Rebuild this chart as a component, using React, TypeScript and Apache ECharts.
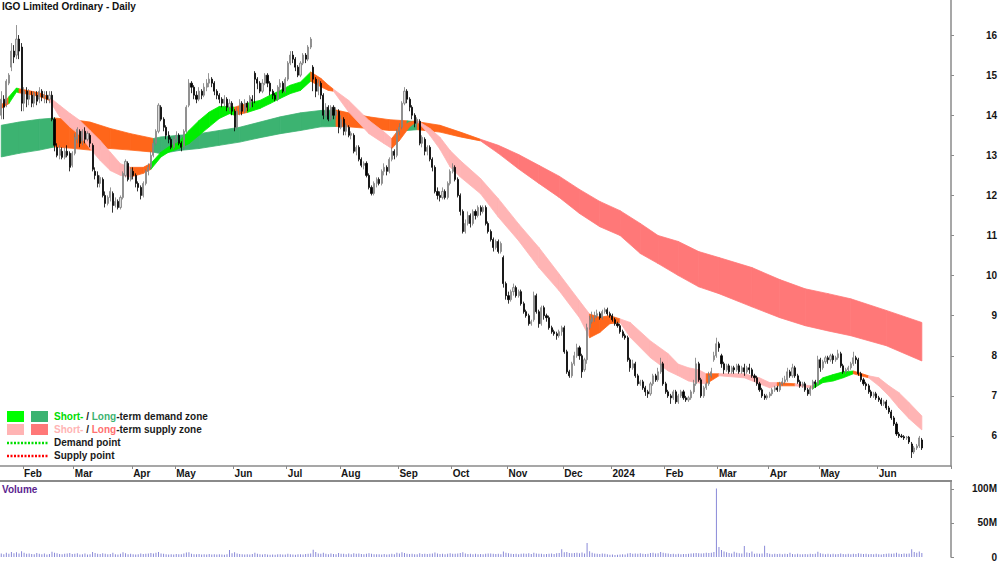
import React, { useEffect, useRef } from "react";
import * as echarts from "echarts";

// Daily candles: [open, close, low, high]
const ohlc: number[][] = [
  // 0
  [14.0,14.4,13.9,14.6],[14.4,14.2,13.9,14.5],[14.3,14.85,14.2,14.9],[14.8,15.0,14.75,15.05],[15.2,15.6,15.1,15.8],[15.6,15.45,15.3,15.75],[15.5,15.9,15.4,16.25],[15.9,15.6,15.4,16.0],[15.7,14.3,14.1,15.8],[14.3,14.6,14.1,14.7],
  // 10
  [14.6,14.4,14.2,14.7],[14.4,14.5,14.25,14.65],[14.5,14.3,14.2,14.6],[14.3,14.55,14.2,14.6],[14.5,14.35,14.25,14.6],[14.4,14.6,14.3,14.7],[14.6,14.45,14.35,14.65],[14.45,14.5,14.3,14.6],[14.5,14.4,14.3,14.6],[14.4,14.5,14.3,14.6],
  // 20
  [14.5,13.9,13.85,14.6],[13.9,13.25,13.1,13.95],[13.2,13.0,12.95,13.3],[13.0,13.15,12.9,13.25],[13.1,12.95,12.9,13.2],[12.95,13.1,12.9,13.2],[13.1,13.0,12.95,13.25],[13.05,12.7,12.6,13.1],[12.75,13.05,12.7,13.1],[13.05,13.45,13.0,13.55],
  // 30
  [13.4,13.65,13.3,13.7],[13.6,13.3,13.2,13.65],[13.35,13.6,13.25,13.65],[13.6,13.4,13.3,13.7],[13.4,13.55,13.35,13.6],[13.5,13.3,13.2,13.55],[13.25,12.65,12.6,13.3],[12.6,12.5,12.4,12.7],[12.5,12.3,12.2,12.6],[12.3,12.45,12.2,12.5],
  // 40
  [12.4,12.0,11.95,12.45],[12.0,11.8,11.7,12.1],[11.8,11.95,11.75,12.0],[11.95,12.1,11.85,12.2],[12.05,11.75,11.57,12.1],[11.75,11.85,11.7,11.95],[11.85,11.7,11.65,11.9],[11.7,11.95,11.65,12.0],[11.95,12.55,11.9,12.6],[12.5,12.85,12.45,12.9],
  // 50
  [12.8,12.4,12.35,12.85],[12.4,12.65,12.35,12.7],[12.6,12.5,12.4,12.7],[12.5,12.3,12.2,12.55],[12.3,12.2,12.1,12.35],[12.2,12.0,11.9,12.25],[12.0,12.3,11.95,12.35],[12.3,12.6,12.25,12.65],[12.6,12.7,12.5,12.8],[12.7,13.0,12.65,13.1],
  // 60
  [13.0,13.3,12.95,13.4],[13.3,13.6,13.25,13.65],[13.6,14.25,13.55,14.3],[14.2,13.9,13.85,14.25],[13.9,13.7,13.6,13.95],[13.7,13.5,13.4,13.75],[13.5,13.4,13.3,13.6],[13.4,13.2,13.15,13.45],[13.2,13.4,13.15,13.45],[13.4,13.5,13.3,13.6],
  // 70
  [13.5,13.3,13.25,13.55],[13.3,13.2,13.1,13.35],[13.2,13.6,13.15,13.65],[13.6,14.2,13.55,14.25],[14.25,14.8,14.2,14.9],[14.8,14.7,14.55,14.85],[14.7,14.5,14.4,14.75],[14.5,14.4,14.3,14.6],[14.4,14.6,14.35,14.7],[14.6,14.5,14.4,14.65],
  // 80
  [14.5,14.7,14.45,14.8],[14.7,14.8,14.6,14.9],[14.8,14.9,14.7,15.05],[14.9,14.8,14.7,14.95],[14.8,14.6,14.5,14.85],[14.6,14.5,14.4,14.65],[14.5,14.4,14.3,14.55],[14.4,14.3,14.2,14.45],[14.3,14.4,14.2,14.5],[14.4,14.2,14.1,14.45],
  // 90
  [14.2,14.3,14.1,14.4],[14.3,14.1,14.0,14.35],[14.1,13.7,13.6,14.15],[13.7,14.1,13.65,14.2],[14.1,14.3,14.0,14.4],[14.3,14.1,14.0,14.35],[14.1,14.3,14.05,14.4],[14.3,14.2,14.1,14.35],[14.2,14.45,14.15,14.5],[14.4,14.35,14.2,14.5],
  // 100
  [15.05,14.9,14.3,15.1],[14.9,14.8,14.65,14.95],[14.8,14.6,14.55,14.85],[14.6,14.8,14.55,14.9],[14.8,15.0,14.75,15.05],[15.0,14.8,14.7,15.05],[14.8,14.6,14.5,14.85],[14.6,14.5,14.4,14.65],[14.5,14.4,14.35,14.55],[14.4,14.7,14.35,14.75],
  // 110
  [14.7,14.8,14.6,14.9],[14.8,14.6,14.55,14.85],[14.6,14.9,14.55,14.95],[14.9,15.3,14.85,15.35],[15.3,15.5,15.25,15.6],[15.5,15.4,15.3,15.6],[15.4,15.2,15.1,15.45],[15.2,15.0,14.95,15.25],[15.0,15.3,14.95,15.35],[15.3,15.5,15.25,15.55],
  // 120
  [15.5,15.4,15.3,15.55],[15.4,15.7,15.35,15.75],[15.7,15.9,15.65,15.95],[15.2,14.9,14.6,15.25],[14.9,14.6,14.45,14.95],[14.6,14.8,14.5,14.9],[14.8,14.5,14.4,14.85],[14.5,14.0,13.9,14.55],[14.0,14.2,13.95,14.3],[14.2,13.9,13.85,14.25],
  // 130
  [13.9,14.2,13.85,14.25],[14.2,14.0,13.9,14.25],[14.0,14.1,13.9,14.2],[14.1,13.7,13.55,14.15],[13.7,13.9,13.65,14.0],[13.9,13.6,13.5,13.95],[13.6,13.75,13.5,13.8],[13.7,13.5,13.45,13.75],[13.5,13.55,13.4,13.6],[13.5,13.1,13.05,13.55],
  // 140
  [13.1,13.2,13.0,13.25],[13.2,12.9,12.85,13.25],[12.9,12.75,12.7,12.95],[12.75,12.8,12.65,12.85],[12.8,12.5,12.45,12.85],[12.5,12.2,12.15,12.55],[12.2,12.05,12.0,12.25],[12.05,12.3,12.0,12.35],[12.3,12.4,12.2,12.45],[12.4,12.3,12.25,12.45],
  // 150
  [12.3,12.6,12.25,12.65],[12.6,12.7,12.5,12.8],[12.7,12.6,12.5,12.75],[12.6,12.9,12.55,12.95],[12.9,13.1,12.85,13.2],[13.1,13.0,12.9,13.15],[13.0,13.6,12.95,13.65],[13.6,13.7,13.5,13.8],[13.7,14.3,13.65,14.35],[14.3,14.6,14.25,14.7],
  // 160
  [14.6,14.4,14.3,14.65],[14.4,14.2,14.1,14.45],[14.2,14.0,13.9,14.25],[14.0,13.8,13.7,14.05],[13.8,13.9,13.7,13.95],[13.85,13.3,13.25,13.9],[13.3,13.45,13.2,13.5],[13.4,13.1,13.0,13.45],[13.1,13.2,13.0,13.25],[13.2,12.9,12.85,13.25],
  // 170
  [12.9,12.7,12.6,12.95],[12.7,12.1,12.05,12.75],[12.1,12.0,11.9,12.2],[12.0,11.95,11.85,12.1],[11.95,12.1,11.9,12.2],[12.1,11.95,11.9,12.15],[11.95,12.3,11.9,12.35],[12.3,12.6,12.25,12.65],[12.6,12.7,12.55,12.8],[12.7,12.4,12.35,12.75],
  // 180
  [12.4,12.0,11.95,12.45],[12.0,11.6,11.5,12.05],[11.6,11.1,11.05,11.65],[11.1,11.3,11.05,11.4],[11.3,11.5,11.25,11.6],[11.5,11.3,11.2,11.55],[11.3,11.6,11.25,11.65],[11.6,11.5,11.4,11.65],[11.5,11.7,11.45,11.75],[11.7,11.6,11.5,11.75],
  // 190
  [11.6,11.7,11.55,11.75],[11.7,11.3,11.25,11.75],[11.3,11.1,11.05,11.35],[11.1,10.9,10.85,11.15],[10.9,10.7,10.6,10.95],[10.7,10.85,10.65,10.9],[10.85,10.6,10.55,10.9],[10.6,10.8,10.55,10.85],[10.45,9.8,9.7,10.5],[9.8,9.5,9.4,9.85],
  // 200
  [9.5,9.4,9.3,9.6],[9.4,9.6,9.35,9.65],[9.6,9.7,9.5,9.8],[9.7,9.5,9.45,9.75],[9.5,9.6,9.45,9.65],[9.6,9.3,9.25,9.65],[9.3,9.1,9.05,9.35],[9.1,9.0,8.95,9.15],[9.0,8.8,8.75,9.05],[8.8,8.85,8.75,8.9],
  // 210
  [8.9,9.5,8.85,9.6],[9.5,9.1,9.05,9.55],[9.1,8.8,8.7,9.15],[8.8,9.2,8.75,9.25],[9.2,9.0,8.9,9.25],[9.0,8.95,8.85,9.05],[8.95,8.7,8.65,9.0],[8.7,8.6,8.55,8.75],[8.6,8.55,8.5,8.65],[8.55,8.5,8.4,8.6],
  // 220
  [8.5,8.6,8.45,8.65],[8.6,8.7,8.5,8.75],[8.7,8.1,8.05,8.75],[8.1,7.6,7.55,8.15],[7.6,7.5,7.45,7.65],[7.5,7.8,7.45,7.85],[7.8,8.0,7.75,8.1],[8.0,8.2,7.95,8.3],[8.2,8.0,7.9,8.25],[8.0,7.6,7.45,8.05],
  // 230
  [7.65,7.9,7.6,7.95],[7.9,8.7,7.8,8.8],[8.7,8.9,8.65,9.0],[8.85,8.95,8.8,9.1],[8.95,9.0,8.85,9.1],[9.0,9.05,8.95,9.15],[9.05,8.95,8.9,9.1],[8.95,9.1,8.9,9.15],[9.1,9.15,9.05,9.2],[9.15,9.05,9.0,9.2],
  // 240
  [9.05,9.0,8.95,9.1],[9.0,8.9,8.85,9.05],[8.9,8.8,8.75,8.95],[8.8,8.75,8.7,8.85],[8.75,8.6,8.55,8.8],[8.6,8.5,8.45,8.65],[8.5,8.45,8.4,8.55],[8.45,7.9,7.85,8.5],[7.9,7.7,7.6,7.95],[7.7,7.8,7.65,7.9],
  // 250
  [7.8,7.5,7.45,7.85],[7.5,7.3,7.25,7.55],[7.3,7.35,7.25,7.4],[7.35,7.2,7.15,7.4],[7.2,7.1,7.0,7.25],[7.1,7.05,6.95,7.15],[7.05,7.3,7.0,7.35],[7.3,7.5,7.25,7.55],[7.5,7.4,7.35,7.55],[7.4,7.6,7.35,7.7],
  // 260
  [7.6,7.8,7.55,7.95],[7.8,7.3,7.25,7.85],[7.3,7.1,7.05,7.35],[7.1,7.0,6.95,7.15],[7.0,6.95,6.8,7.05],[6.95,7.1,6.9,7.15],[7.1,6.85,6.8,7.15],[6.85,7.0,6.8,7.05],[7.0,7.1,6.95,7.15],[7.1,6.95,6.9,7.15],
  // 270
  [6.95,6.9,6.85,7.0],[6.9,6.95,6.85,7.0],[6.95,7.1,6.9,7.15],[7.1,7.3,7.05,7.4],[7.3,7.8,7.25,7.95],[7.8,7.4,7.35,7.85],[7.4,7.0,6.95,7.45],[7.0,7.2,6.95,7.25],[7.2,7.3,7.15,7.35],[7.3,7.5,7.25,7.6],
  // 280
  [7.5,7.6,7.45,7.7],[7.9,8.0,7.85,8.1],[8.0,8.3,7.95,8.45],[8.3,8.2,8.1,8.35],[8.0,7.8,7.7,8.05],[7.8,7.65,7.55,7.85],[7.65,7.75,7.6,7.8],[7.75,7.6,7.55,7.8],[7.6,7.7,7.55,7.75],[7.7,7.65,7.55,7.75],
  // 290
  [7.65,7.75,7.6,7.8],[7.75,7.6,7.55,7.8],[7.6,7.7,7.55,7.75],[7.7,7.6,7.5,7.8],[7.6,7.7,7.55,7.75],[7.7,7.65,7.55,7.8],[7.65,7.5,7.45,7.7],[7.5,7.45,7.35,7.55],[7.45,7.3,7.25,7.5],[7.3,7.15,7.1,7.35],
  // 300
  [7.15,7.0,6.95,7.2],[7.0,6.95,6.9,7.05],[6.95,7.0,6.9,7.05],[7.0,7.05,6.95,7.1],[7.05,7.15,7.0,7.2],[7.15,7.2,7.1,7.25],[7.2,7.15,7.1,7.25],[7.15,7.3,7.1,7.35],[7.3,7.35,7.25,7.45],[7.35,7.4,7.3,7.5],
  // 310
  [7.4,7.6,7.35,7.7],[7.6,7.5,7.45,7.65],[7.5,7.7,7.45,7.8],[7.7,7.5,7.45,7.75],[7.5,7.35,7.3,7.55],[7.35,7.25,7.2,7.4],[7.25,7.3,7.2,7.35],[7.3,7.15,7.1,7.35],[7.15,7.05,7.0,7.2],[7.05,7.2,7.0,7.25],
  // 320
  [7.2,7.35,7.15,7.4],[7.35,7.3,7.2,7.4],[7.3,7.9,7.25,8.0],[7.9,7.7,7.6,7.95],[7.7,7.85,7.65,7.9],[7.85,7.95,7.8,8.0],[7.95,7.9,7.8,8.0],[7.9,8.0,7.85,8.05],[8.0,7.9,7.8,8.05],[7.9,7.95,7.85,8.0],
  // 330
  [7.95,8.05,7.9,8.15],[8.05,7.75,7.7,8.1],[7.75,7.6,7.55,7.8],[7.6,7.65,7.55,7.7],[7.65,7.7,7.6,7.75],[7.7,7.8,7.65,7.85],[7.8,7.95,7.75,8.1],[7.95,7.9,7.8,8.0],[7.9,7.55,7.5,7.95],[7.55,7.4,7.35,7.6],
  // 340
  [7.4,7.3,7.25,7.45],[7.3,7.25,7.15,7.35],[7.25,7.1,7.05,7.3],[7.1,7.0,6.95,7.15],[7.0,7.05,6.95,7.1],[7.05,6.95,6.9,7.1],[6.95,6.9,6.85,7.0],[6.9,6.8,6.75,6.95],[6.8,6.85,6.75,6.9],[6.85,6.7,6.65,6.9],
  // 350
  [6.7,6.6,6.55,6.75],[6.6,6.45,6.4,6.65],[6.45,6.3,6.25,6.5],[6.3,6.05,6.0,6.35],[6.05,6.0,5.95,6.1],[6.0,5.98,5.95,6.05],[5.98,5.95,5.9,6.02],[5.95,5.97,5.9,6.0],[5.97,5.85,5.8,6.0],[5.8,5.6,5.45,5.85],
  // 360
  [5.6,5.7,5.55,5.75],[5.7,5.75,5.65,5.8],[5.75,5.95,5.7,6.0],[5.9,5.7,5.65,5.95],
];

// Daily volume, millions of shares
const volumeM: number[] = [
  5.2,4.1,6.3,4.8,7.5,5.6,6.9,5.1,8.4,6.2,
  4.7,5.3,4.4,3.9,5.8,4.6,4.2,5.0,3.8,4.5,
  7.8,6.4,5.5,4.3,3.9,4.8,5.1,6.0,4.4,4.9,
  5.6,3.8,4.2,5.0,3.6,4.1,7.2,5.8,4.9,4.3,
  5.6,4.8,3.9,4.4,6.1,4.2,3.8,4.6,6.8,5.5,
  4.1,4.7,3.9,3.5,4.2,5.1,4.4,4.9,5.3,5.8,
  5.0,6.3,7.4,5.2,4.6,4.1,3.8,4.0,3.7,4.5,
  3.9,4.2,5.1,6.5,7.0,4.8,4.1,3.9,4.4,3.6,
  4.0,3.8,4.3,3.5,3.9,3.7,4.1,3.6,3.4,4.2,
  10.2,5.5,6.8,5.1,4.3,3.9,3.6,4.0,3.5,4.4,
  6.2,4.6,3.9,3.7,4.3,3.8,3.4,3.6,3.3,3.9,
  4.1,3.5,3.8,4.6,4.0,3.7,3.4,3.9,4.2,3.6,
  4.4,4.8,5.2,10.5,7.4,5.3,4.6,6.1,4.8,4.2,
  5.0,4.5,4.1,5.7,4.6,4.9,4.2,5.3,4.0,5.5,
  4.7,5.2,4.4,3.9,4.6,5.4,4.8,4.2,3.9,4.1,
  3.8,4.3,3.7,4.0,4.6,4.2,6.3,5.1,6.9,5.8,
  4.9,4.4,4.7,4.2,4.0,5.6,4.5,4.8,4.3,4.9,
  5.2,6.7,5.0,4.4,4.6,4.1,4.8,5.5,4.7,4.9,
  5.3,6.0,7.1,5.2,4.5,4.8,4.2,4.6,4.0,4.4,
  4.1,4.9,5.3,5.1,4.6,4.3,4.8,4.0,8.2,6.1,
  5.4,4.7,4.3,4.6,4.0,4.9,5.2,4.8,5.5,4.3,
  6.4,5.0,4.6,4.9,4.2,4.5,4.8,5.1,4.4,5.6,
  5.9,11.2,6.8,7.3,6.0,5.4,5.8,6.2,5.5,6.7,
  5.1,20.5,8.3,6.4,5.2,4.8,4.3,5.0,4.6,4.1,
  3.2,3.6,2.9,3.4,3.8,4.2,3.5,5.3,5.9,4.8,
  5.1,4.6,5.4,4.9,4.3,4.7,5.8,6.1,5.2,5.6,
  7.4,6.3,5.5,5.0,4.4,4.6,4.2,4.8,4.1,4.5,
  4.3,4.9,5.2,5.6,6.0,5.4,5.1,5.5,6.2,5.8,
  6.4,7.2,100.5,14.8,10.3,8.1,6.9,5.7,5.2,7.6,
  6.3,5.4,5.0,16.2,6.6,5.8,7.9,4.8,5.3,4.6,
  5.1,16.4,5.9,4.7,4.2,4.9,4.4,4.6,4.0,4.8,
  4.3,6.1,4.5,4.1,4.6,4.2,3.9,4.4,4.0,4.7,
  4.3,4.9,7.8,5.6,4.9,4.2,4.6,4.1,4.8,3.9,
  4.5,5.1,4.3,4.0,4.6,4.2,4.9,4.4,5.6,4.8,
  4.3,4.7,3.9,4.4,4.0,4.6,4.2,3.8,4.5,4.9,
  5.3,4.7,5.1,6.2,4.8,4.4,5.0,4.6,5.2,11.3,
  7.2,6.4,8.0,5.8,
];

// Month labels on the date axis (trading-day index of first session)
const monthStartIdx = [9, 29, 52, 69, 92, 113, 134, 157, 178, 200, 222, 241, 262, 283, 303, 323, 346];
const monthNames = ["Feb", "Mar", "Apr", "May", "Jun", "Jul", "Aug", "Sep", "Oct", "Nov", "Dec", "2024", "Feb", "Mar", "Apr", "May", "Jun"];
const blankSessions = 11;

const priceTicks = [6, 7, 8, 9, 10, 11, 12, 13, 14, 15, 16];
const volumeTicks = [0, 50, 100];

// Long-term zone band (sampled sessions)
const ltIdx = [0,7,15,21,27,35,43,51,60,63,70,78,86,94,102,110,118,126,132,137,145,153,160,164,173,181,189,196,204,212,220,228,236,244,252,259,267,275,283,296,307,317,326,335,349,363];
const ltUpper = [13.75,13.83,13.9,13.93,13.9,13.83,13.67,13.54,13.42,13.46,13.5,13.54,13.62,13.7,13.83,13.96,14.06,14.12,14.13,14.06,13.96,13.89,13.86,13.84,13.75,13.58,13.4,13.25,13.02,12.75,12.48,12.15,11.85,11.62,11.3,11.0,10.85,10.6,10.45,10.2,9.9,9.67,9.55,9.42,9.13,8.83];
const ltLower = [12.96,13.05,13.13,13.21,13.18,13.13,13.17,13.13,13.08,13.04,13.12,13.17,13.25,13.33,13.44,13.54,13.62,13.71,13.72,13.71,13.67,13.62,13.62,13.64,13.58,13.46,13.36,13.05,12.66,12.3,11.95,11.55,11.22,11.0,10.55,10.3,10.0,9.72,9.55,9.22,8.95,8.75,8.62,8.5,8.25,7.87];
const ltZones = "LLLOOOOOLLLLLLLLLLOOOOLOOOSSSSSSSSSSSSSSSSSSSS".split("");

// Short-term zone band (sampled sessions)
const stIdx = [0,3,6,7,11,15,19,23,27,31,35,39,43,47,51,56,59,63,66,70,74,78,82,86,90,92,97,102,106,110,114,118,122,126,129,131,137,145,151,154,157,161,164,169,173,177,181,189,196,204,212,220,228,232,236,240,244,248,256,263,267,271,275,278,283,293,299,303,306,313,319,320,324,328,332,336,342,346,350,354,358,363];
const stUpper = [14.25,14.46,14.68,14.66,14.61,14.56,14.45,14.25,14.05,13.87,13.62,13.37,13.08,12.79,12.7,12.7,12.8,13.08,13.21,13.33,13.62,13.87,14.08,14.22,14.22,14.2,14.3,14.37,14.5,14.62,14.75,14.83,15.08,14.92,14.75,14.65,14.37,13.87,13.58,13.42,13.67,13.83,13.87,13.67,13.45,13.12,12.87,12.42,11.92,11.29,10.7,10.04,9.37,9.04,8.96,9.0,8.92,8.83,8.37,8.05,7.79,7.7,7.65,7.55,7.55,7.55,7.45,7.33,7.33,7.3,7.25,7.25,7.45,7.53,7.6,7.62,7.5,7.45,7.25,7.08,6.83,6.5];
const stLower = [14.17,14.29,14.58,14.56,14.52,14.47,14.37,13.96,13.71,13.5,13.17,12.87,12.62,12.5,12.46,12.55,12.65,12.96,13.08,13.17,13.29,13.5,13.71,13.92,14.04,14.0,14.07,14.17,14.29,14.42,14.54,14.62,14.85,14.71,14.62,14.6,14.08,13.54,13.29,13.17,13.37,13.71,13.85,13.5,13.15,12.71,12.46,12.04,11.46,10.87,10.2,9.62,8.95,8.45,8.58,8.8,8.83,8.46,7.95,7.62,7.5,7.37,7.32,7.3,7.5,7.45,7.3,7.2,7.25,7.25,7.2,7.18,7.33,7.37,7.45,7.55,7.45,7.25,7.0,6.7,6.43,6.15];
const stZones = "OGGOOOPPPPPPPPOOGGGGGGGGGOGGGGGGOOOPPPPOOOPPPPPPPPPPPOOOPPPPPPPOPPPPOPPGGGGOPPPPPP".split("");

const zoneColors: Record<string, string> = {
  G: "#00ee00", // short-term demand
  L: "#3cb371", // long-term demand
  P: "#ffb4b4", // short-term supply
  S: "#ff7878", // long-term supply
  O: "#ff661a", // transition
};

const FONT = "'Liberation Sans', Arial, sans-serif";

function bandSeries(name: string, idx: number[], up: number[], lo: number[], zones: string[]) {
  const segs = idx.slice(0, -1).map((x, k) => [x, up[k], lo[k], k]);
  return {
    type: "custom",
    name,
    xAxisIndex: 0,
    yAxisIndex: 0,
    silent: true,
    clip: true,
    encode: { x: 0, y: [1, 2] },
    data: segs,
    renderItem: (_params: any, api: any) => {
      const k = api.value(3);
      const a = api.coord([idx[k], up[k]]);
      const b = api.coord([idx[k + 1], up[k + 1]]);
      const c = api.coord([idx[k + 1], lo[k + 1]]);
      const d = api.coord([idx[k], lo[k]]);
      const col = zoneColors[zones[k]];
      return {
        type: "polygon",
        shape: { points: [a, b, c, d] },
        style: { fill: col, stroke: col, lineWidth: 0.8 },
      };
    },
  };
}

export default function App() {
  const ref = useRef<HTMLDivElement>(null);
  useEffect(() => {
    const chart = echarts.init(ref.current!, null, { renderer: "svg" });
    const n = ohlc.length + blankSessions;
    const categories = Array.from({ length: n }, (_, i) => String(i));
    const isMonth = (i: number) => monthStartIdx.indexOf(i) >= 0;
    const axisCol = "#8a8a8a";
    const labelStyle = { fontFamily: FONT, fontWeight: "bold" as const, fontSize: 10, color: "#151515" };

    const richBase = { fontFamily: FONT, fontWeight: "bold", fontSize: 10 };
    const legendText = (t: string, y: number, rich: any) => ({
      type: "text",
      left: 54,
      top: y - 6,
      style: { text: t, rich, fontFamily: FONT, fontWeight: "bold", fontSize: 10, fill: "#1a1a1a" },
    });

    chart.setOption({
      animation: false,
      backgroundColor: "#ffffff",
      textStyle: { fontFamily: FONT },
      grid: [
        { left: 0, top: 0, width: 952, height: 466 },
        { left: 0, top: 482, width: 952, height: 76 },
      ],
      xAxis: [
        {
          type: "category",
          gridIndex: 0,
          data: categories,
          boundaryGap: true,
          axisLine: { show: true, lineStyle: { color: axisCol, width: 1.5 } },
          axisTick: { show: true, interval: (i: number) => isMonth(i), length: 3, lineStyle: { color: axisCol } },
          axisLabel: {
            show: true,
            interval: (i: number) => isMonth(i),
            formatter: (_v: string, i: number) => monthNames[monthStartIdx.indexOf(i)] ?? "",
            align: "left",
            margin: 2,
            ...labelStyle,
          },
          splitLine: { show: false },
        },
        {
          type: "category",
          gridIndex: 1,
          data: categories,
          boundaryGap: true,
          axisLine: { show: false },
          axisTick: { show: false },
          axisLabel: { show: false },
          splitLine: { show: false },
        },
      ],
      yAxis: [
        {
          type: "value",
          gridIndex: 0,
          position: "right",
          min: 5.25,
          max: 16.875,
          axisLine: { show: true, lineStyle: { color: axisCol, width: 1.5 } },
          axisTick: { show: true, customValues: priceTicks, length: 3, lineStyle: { color: axisCol } },
          axisLabel: { show: true, customValues: priceTicks, align: "right", margin: 46, ...labelStyle },
          splitLine: { show: false },
        },
        {
          type: "value",
          gridIndex: 1,
          position: "right",
          min: 0,
          max: 110,
          axisLine: { show: true, lineStyle: { color: axisCol, width: 1.5 } },
          axisTick: { show: true, customValues: volumeTicks, length: 3, lineStyle: { color: axisCol } },
          axisLabel: {
            show: true,
            customValues: volumeTicks,
            formatter: (v: number) => (v === 0 ? "0" : `${v}M`),
            align: "right",
            margin: 46,
            ...labelStyle,
          },
          splitLine: { show: false },
        },
      ],
      series: [
        bandSeries("Long-term zone", ltIdx, ltUpper, ltLower, ltZones),
        bandSeries("Short-term zone", stIdx, stUpper, stLower, stZones),
        {
          type: "candlestick",
          name: "IGO",
          xAxisIndex: 0,
          yAxisIndex: 0,
          data: ohlc,
          barWidth: 1.6,
          itemStyle: {
            color: "#d9d9d9",
            borderColor: "#7a7a7a",
            color0: "#000000",
            borderColor0: "#000000",
            borderWidth: 0.8,
          },
        },
        {
          type: "bar",
          name: "Volume",
          xAxisIndex: 1,
          yAxisIndex: 1,
          data: volumeM,
          barWidth: 1,
          itemStyle: { color: "#8a8ad8" },
        },
      ],
      graphic: [
        {
          type: "text",
          left: 2,
          top: 1,
          style: { text: "IGO Limited Ordinary - Daily", fontFamily: FONT, fontWeight: "bold", fontSize: 10, fill: "#111" },
        },
        {
          type: "text",
          left: 2,
          top: 484,
          style: { text: "Volume", fontFamily: FONT, fontWeight: "bold", fontSize: 10, fill: "#5b1f8f" },
        },
        {
          type: "line",
          shape: { x1: 0, y1: 481, x2: 952, y2: 481 },
          style: { stroke: axisCol, lineWidth: 2 },
        },
        { type: "rect", shape: { x: 7, y: 411, width: 17, height: 11 }, style: { fill: "#00ff00" } },
        { type: "rect", shape: { x: 31, y: 411, width: 17, height: 11 }, style: { fill: "#3cb371" } },
        { type: "rect", shape: { x: 7, y: 424, width: 17, height: 11 }, style: { fill: "#ffb4b4" } },
        { type: "rect", shape: { x: 31, y: 424, width: 17, height: 11 }, style: { fill: "#ff7878" } },
        {
          type: "line",
          shape: { x1: 7, y1: 443, x2: 48, y2: 443 },
          style: { stroke: "#00dd00", lineWidth: 2.5, lineDash: [2, 1.5] },
        },
        {
          type: "line",
          shape: { x1: 7, y1: 456, x2: 48, y2: 456 },
          style: { stroke: "#ff0000", lineWidth: 2.5, lineDash: [2, 1.5] },
        },
        legendText("{a|Short-} / {b|Long}-term demand zone", 417, {
          a: { ...richBase, fill: "#00dd00", color: "#00dd00" },
          b: { ...richBase, fill: "#3cb371", color: "#3cb371" },
        }),
        legendText("{a|Short-} / {b|Long}-term supply zone", 430, {
          a: { ...richBase, fill: "#ffb4b4", color: "#ffb4b4" },
          b: { ...richBase, fill: "#ff7070", color: "#ff7070" },
        }),
        legendText("Demand point", 443, {}),
        legendText("Supply point", 456, {}),
      ],
    });
    return () => chart.dispose();
  }, []);
  return (
    <div
      ref={ref}
      style={{ position: "fixed", left: 0, top: 0, width: 1000, height: 562, background: "#fff" }}
    />
  );
}
